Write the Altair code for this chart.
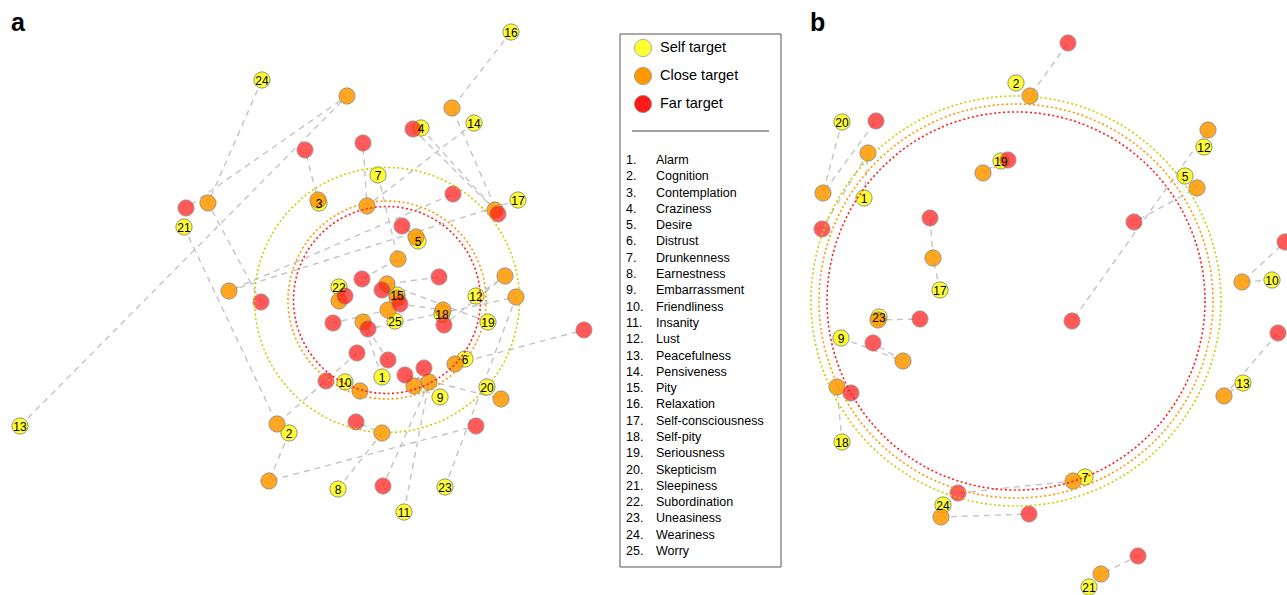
import altair as alt
import pandas as pd

# Emotional states, numbered 1..25 in the key
emotions = ["Alarm", "Cognition", "Contemplation", "Craziness", "Desire",
            "Distrust", "Drunkenness", "Earnestness", "Embarrassment",
            "Friendliness", "Insanity", "Lust", "Peacefulness", "Pensiveness",
            "Pity", "Relaxation", "Self-consciousness", "Self-pity",
            "Seriousness", "Skepticism", "Sleepiness", "Subordination",
            "Uneasiness", "Weariness", "Worry"]

targets = ["Self target", "Close target", "Far target"]
target_fill = ["#ffff33", "#ff9900", "#ff1a1a"]
target_opacity = [1.0, 0.72, 0.72]

# ---- panel a: 2-D map coordinates for all 25 states ----
a_ids = list(range(1, 26))
a_self_x = [-0.5, -9.8, -6.8, 3.4, 3.1, 7.8, -0.9, -4.9, 5.3, -4.2, 1.7, 8.9, -36.7,
            8.7, 1.0, 12.4, 13.1, 5.5, 10.1, 10.0, -20.3, -4.8, 5.8, -12.5, 0.8]
a_self_y = [-7.7, -13.3, 9.7, 17.2, 5.9, -5.9, 12.5, -18.9, -9.7, -8.2, -21.2, 0.4, -12.6,
            17.7, 0.5, 26.8, 10.0, -1.4, -2.2, -8.7, 7.3, 1.3, -18.7, 22.0, -2.1]
a_close_x = [-2.4, -11.8, -6.9, 10.8, 2.9, 6.8, 1.1, -0.5, 2.7, -2.7, 4.2, 11.8, -4.0,
             -2.0, 1.0, 6.5, -15.8, 5.6, 0.0, 11.4, -11.0, -4.8, 12.9, -17.9, 0.1]
a_close_y = [-2.2, -18.1, 10.0, 9.0, 6.3, -6.4, 4.1, -13.3, -8.6, -9.1, -8.2, 2.4, 20.4,
             9.4, 0.2, 19.2, 0.9, -1.0, 1.6, -9.9, -12.4, -0.1, 0.3, 9.7, -1.0]
a_far_x = [0.1, 8.9, -8.2, 2.6, 1.5, 19.7, -2.5, -3.1, 3.7, -6.1, -0.4, 5.7, -20.1,
           -2.4, -0.5, 11.1, 6.6, 1.3, 5.2, 1.8, -3.0, -4.2, -1.9, -12.6, -5.4]
a_far_y = [-6.0, -12.6, 15.0, 17.1, 7.4, -3.0, 2.1, -12.2, -6.8, -8.1, -18.6, -2.5, 9.2,
           15.7, 1.0, 8.6, 10.6, -0.4, 2.3, -7.5, -5.3, 0.4, -2.9, -0.2, -2.3]
a_rings = [13.25, 9.9, 9.35]

# ---- panel b: states that fall inside the frame ----
b_ids = [1, 2, 5, 7, 9, 10, 12, 13, 17, 18, 19, 20, 21, 23, 24]
b_self_x = [-15.2, 0.0, 16.9, 6.9, -17.5, 25.6, 18.8, 22.7, -7.6, -17.4, -1.5, -17.4, 7.3, -13.7, -7.3]
b_self_y = [10.3, 21.8, 12.5, -17.6, -3.7, 2.1, 15.4, -8.2, 1.1, -14.1, 14.0, 17.9, -28.6, -1.6, -20.4]
b_close_x = [-14.8, 1.4, 18.1, 5.7, -11.3, 22.6, 19.2, 20.8, -8.3, -17.9, -3.3, -19.3, 8.5, -13.8, -7.5]
b_close_y = [14.8, 20.5, 11.3, -18.0, -6.0, 1.9, 17.1, -9.5, 4.3, -8.6, 12.8, 10.8, -27.3, -1.9, -21.6]
b_far_x = [-19.4, 5.2, 11.8, -5.8, -14.3, 26.9, 5.6, 26.2, -8.6, -16.5, -0.8, -14.0, 12.2, -9.6, 1.3]
b_far_y = [7.2, 25.8, 7.9, -19.2, -4.2, 5.9, -2.0, -3.2, 8.3, -9.2, 14.1, 18.0, -25.5, -1.8, -21.3]
b_rings = [20.5, 19.7, 18.9]

ring_colors = ["#cccc00", "#ff9900", "#ff1a1a"]
FONT = "Liberation Sans"


def long_table(ids, sx, sy, cx, cy, fx, fy):
    rows = []
    for k, (xs, ys) in enumerate([(sx, sy), (cx, cy), (fx, fy)]):
        for i, x, y in zip(ids, xs, ys):
            rows.append({"id": i, "label": str(i), "target": targets[k],
                         "step": k, "x": x, "y": y})
    return pd.DataFrame(rows)


def panel(df, rings, xdom, ydom, width, letter, letter_x):
    xs = alt.Scale(domain=xdom, nice=False, zero=False)
    ys = alt.Scale(domain=ydom, nice=False, zero=False)
    base = alt.Chart(df)

    links = base.mark_line(strokeDash=[6, 5], strokeWidth=1.4, color="#c4c4c4", clip=True).encode(
        x=alt.X("x:Q", scale=xs, axis=None),
        y=alt.Y("y:Q", scale=ys, axis=None),
        detail="id:N",
        order="step:Q",
    )

    dots = base.mark_point(shape="circle", filled=True, size=265, clip=True,
                           stroke="#7a7a7a", strokeWidth=0.8).encode(
        x=alt.X("x:Q", scale=xs, axis=None),
        y=alt.Y("y:Q", scale=ys, axis=None),
        fill=alt.Fill("target:N", scale=alt.Scale(domain=targets, range=target_fill), legend=None),
        opacity=alt.Opacity("target:N", scale=alt.Scale(domain=targets, range=target_opacity), legend=None),
        order="step:Q",
    )

    ring_df = pd.DataFrame({"cx": [0.0] * 3, "cy": [0.0] * 3, "r": rings, "col": ring_colors})
    circles = alt.Chart(ring_df).mark_point(shape="circle", filled=False, strokeWidth=1.6, clip=True,
                                            strokeDash=[2, 2.5], opacity=1).encode(
        x=alt.X("cx:Q", scale=xs, axis=None),
        y=alt.Y("cy:Q", scale=ys, axis=None),
        # radius in map units -> symbol area (diameter squared) at 10 px per unit
        size=alt.Size("r:Q", scale=alt.Scale(type="pow", exponent=2, domain=[0, 30],
                                             range=[0, 360000]), legend=None),
        stroke=alt.Stroke("col:N", scale=None),
    )

    labels = base.transform_filter(alt.datum.step == 0).mark_text(
        font=FONT, fontSize=12, color="black", dy=1, clip=True).encode(
        x=alt.X("x:Q", scale=xs, axis=None),
        y=alt.Y("y:Q", scale=ys, axis=None),
        text="label:N",
    )

    tag = alt.Chart(pd.DataFrame({"t": [letter]})).mark_text(
        font=FONT, fontSize=25, fontWeight="bold", align="left", baseline="alphabetic"
    ).encode(x=alt.value(letter_x), y=alt.value(31), text="t:N")

    return alt.layer(links, dots, circles, labels, tag).resolve_scale(size="independent").properties(
        width=width, height=595)


panel_a = panel(long_table(a_ids, a_self_x, a_self_y, a_close_x, a_close_y, a_far_x, a_far_y),
                a_rings, [-38.7, 21.8], [-29.5, 30.0], 605, "a", 11)
panel_b = panel(long_table(b_ids, b_self_x, b_self_y, b_close_x, b_close_y, b_far_x, b_far_y),
                b_rings, [-22.6, 27.1], [-29.4, 30.1], 497, "b", 20)

# ---- key panel ----
key_df = pd.DataFrame({"target": targets, "k": [0, 1, 2]})
key_y = alt.Scale(domain=[0, 2], range=[48, 104])
list_df = pd.DataFrame({"rank": list(range(1, 26)),
                        "num": [f"{i}." for i in range(1, 26)],
                        "name": emotions})
list_y = alt.Scale(domain=[1, 25], range=[160, 551])

frame = alt.Chart(pd.DataFrame({"d": [0]})).mark_rect(
    filled=False, stroke="#555555", strokeWidth=1).encode(
    x=alt.value(15), x2=alt.value(176), y=alt.value(34), y2=alt.value(567))
sep = alt.Chart(pd.DataFrame({"d": [0]})).mark_rule(color="#444444", strokeWidth=1).encode(
    x=alt.value(27), x2=alt.value(164), y=alt.value(131))
key_dots = alt.Chart(key_df).mark_point(shape="circle", filled=True, size=300,
                                        stroke="#999999", strokeWidth=0.8, opacity=1).encode(
    x=alt.value(38),
    y=alt.Y("k:Q", scale=key_y, axis=None),
    fill=alt.Fill("target:N", scale=alt.Scale(domain=targets, range=["#ffff00", "#ff9900", "#ff0000"]),
                  legend=None),
)
key_text = alt.Chart(key_df).mark_text(font=FONT, fontSize=14.5, align="left", color="black").encode(
    x=alt.value(55), y=alt.Y("k:Q", scale=key_y, axis=None), text="target:N")
list_num = alt.Chart(list_df).mark_text(font=FONT, fontSize=12.5, align="left", color="black").encode(
    x=alt.value(21), y=alt.Y("rank:Q", scale=list_y, axis=None), text="num:N")
list_name = alt.Chart(list_df).mark_text(font=FONT, fontSize=12.5, align="left", color="black").encode(
    x=alt.value(51), y=alt.Y("rank:Q", scale=list_y, axis=None), text="name:N")

key_panel = alt.layer(frame, sep, key_dots, key_text, list_num, list_name).resolve_scale(
    y="independent").properties(width=185, height=595)

chart = alt.hconcat(panel_a, key_panel, panel_b, spacing=0, bounds="flush").properties(
    padding=0, background="white"
).configure_view(stroke=None)

chart.save("out.html", embed_options={"renderer": "svg", "actions": False})
